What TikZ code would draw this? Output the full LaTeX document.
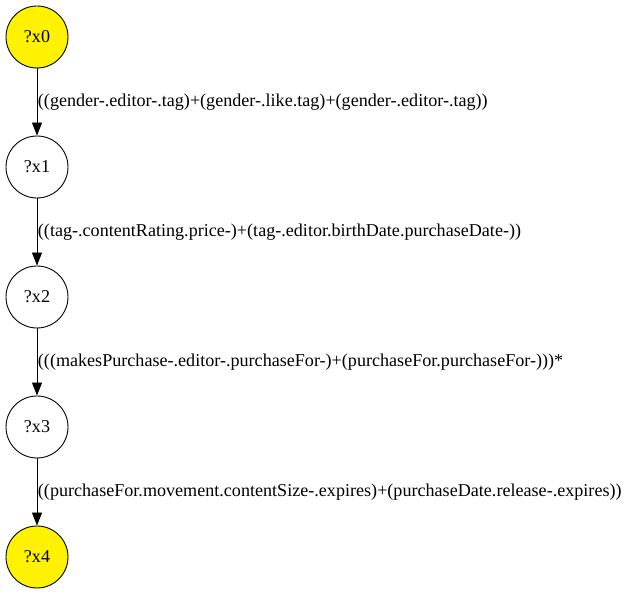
\documentclass[tikz,border=0pt]{standalone}
\usepackage{fontspec}
\setmainfont{Liberation Serif}
\usetikzlibrary{arrows.meta,positioning}
\tikzset{
  base/.style={font=\fontsize{18.1}{21}\selectfont, inner sep=0pt, text=black},
  var/.style={base, circle, draw=black, fill=white, line width=0.9pt, minimum size=62pt},
  endvar/.style={var, fill=yellow},
  arr/.style={-{Triangle[length=13pt,width=10pt]}, line width=0.9pt, draw=black},
  lbl/.style={base, anchor=west, inner sep=0.5pt},
}
\begin{document}
\begin{tikzpicture}[x=1pt,y=1pt]
  \useasboundingbox (0,0) rectangle (630,595);
  \node[endvar] (x0) at (37,558) {?x0};
  \node[var]    (x1) at (37,428) {?x1};
  \node[var]    (x2) at (37,298) {?x2};
  \node[var]    (x3) at (37,168) {?x3};
  \node[endvar] (x4) at (37,38)  {?x4};
  \draw[arr] (x0) -- (x1) node[midway,lbl]{((gender-.editor-.tag)+(gender-.like.tag)+(gender-.editor-.tag))};
  \draw[arr] (x1) -- (x2) node[midway,lbl]{((tag-.contentRating.price-)+(tag-.editor.birthDate.purchaseDate-))};
  \draw[arr] (x2) -- (x3) node[midway,lbl]{(((makesPurchase-.editor-.purchaseFor-)+(purchaseFor.purchaseFor-)))*};
  \draw[arr] (x3) -- (x4) node[midway,lbl]{((purchaseFor.movement.contentSize-.expires)+(purchaseDate.release-.expires))};
\end{tikzpicture}
\end{document}
